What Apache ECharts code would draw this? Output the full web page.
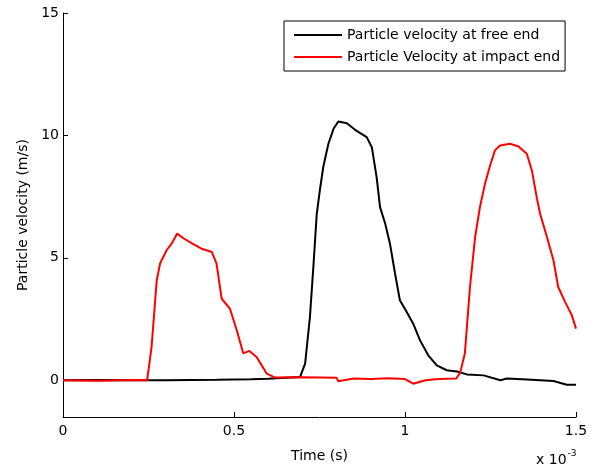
<!DOCTYPE html>
<html>
<head>
<meta charset="utf-8">
<script src="https://cdn.jsdelivr.net/npm/echarts@6/dist/echarts.min.js"></script>
<style>
html, body { margin: 0; padding: 0; background: #fff; }
#main { width: 592px; height: 470px; }
</style>
</head>
<body>
<div id="main"></div>
<script>
var myChart = echarts.init(document.getElementById('main'));

// time in units of 1e-3 s
var freeTime = [0, 0.1, 0.2, 0.3, 0.45, 0.55, 0.6, 0.65, 0.693, 0.708, 0.722, 0.732, 0.742, 0.751, 0.761, 0.776, 0.791, 0.805, 0.83, 0.854, 0.888, 0.903, 0.917, 0.927, 0.942, 0.956, 0.971, 0.985, 1.005, 1.024, 1.044, 1.068, 1.093, 1.122, 1.152, 1.181, 1.23, 1.279, 1.298, 1.357, 1.434, 1.473, 1.5];
var freeVel = [0, 0.01, 0, 0, 0.02, 0.04, 0.06, 0.1, 0.13, 0.68, 2.58, 4.62, 6.8, 7.76, 8.71, 9.66, 10.27, 10.57, 10.5, 10.23, 9.93, 9.52, 8.3, 7.07, 6.4, 5.58, 4.35, 3.27, 2.79, 2.31, 1.63, 1.02, 0.61, 0.41, 0.36, 0.24, 0.2, 0.0, 0.07, 0.03, -0.03, -0.18, -0.18];

var impactTime = [0, 0.1, 0.2, 0.246, 0.259, 0.274, 0.284, 0.303, 0.318, 0.334, 0.352, 0.376, 0.406, 0.435, 0.449, 0.464, 0.488, 0.508, 0.527, 0.545, 0.566, 0.596, 0.62, 0.7, 0.8, 0.805, 0.85, 0.9, 0.95, 1.0, 1.024, 1.06, 1.1, 1.15, 1.161, 1.175, 1.19, 1.205, 1.219, 1.234, 1.249, 1.263, 1.278, 1.307, 1.332, 1.356, 1.371, 1.385, 1.395, 1.415, 1.434, 1.448, 1.468, 1.488, 1.5];
var impactVel = [0, -0.02, 0.01, 0, 1.36, 4.08, 4.78, 5.31, 5.59, 5.99, 5.8, 5.6, 5.37, 5.24, 4.76, 3.33, 2.93, 2.04, 1.1, 1.2, 0.95, 0.27, 0.11, 0.12, 0.1, -0.04, 0.07, 0.05, 0.08, 0.05, -0.14, 0.0, 0.05, 0.07, 0.3, 1.09, 3.81, 5.85, 7.07, 8.03, 8.78, 9.39, 9.59, 9.66, 9.55, 9.25, 8.57, 7.48, 6.8, 5.85, 4.9, 3.81, 3.2, 2.65, 2.11];

var xTicks = [0, 0.5, 1, 1.5];
var yTicks = [0, 5, 10, 15];

function pairs(xs, ys) {
    return xs.map(function (x, i) { return [x, ys[i]]; });
}

var font = 'DejaVu Sans, sans-serif';

option = {
    animation: false,
    backgroundColor: '#fff',
    textStyle: { fontFamily: font },
    grid: { left: 63, right: 16, top: 13, bottom: 53 },
    legend: {
        orient: 'vertical',
        left: 284,
        top: 21,
        padding: [6, 5, 6, 10],
        icon: 'rect',
        itemWidth: 48,
        itemHeight: 2,
        itemGap: 6,
        borderColor: '#000',
        borderWidth: 1,
        borderRadius: 0,
        backgroundColor: '#fff',
        textStyle: { color: '#000', fontSize: 14, lineHeight: 16, fontFamily: font },
        data: ['Particle velocity at free end', 'Particle Velocity at impact end']
    },
    xAxis: {
        type: 'value',
        min: 0,
        max: 1.5,
        interval: 0.5,
        name: 'Time (s)',
        nameLocation: 'middle',
        nameGap: 32,
        nameTextStyle: { color: '#000', fontSize: 14, fontFamily: font },
        axisLine: { onZero: false, lineStyle: { color: '#000', width: 1 } },
        axisTick: { inside: true, length: 5, customValues: xTicks, lineStyle: { color: '#000' } },
        axisLabel: { color: '#000', fontSize: 14, fontFamily: font, margin: 7, customValues: xTicks },
        splitLine: { show: false }
    },
    yAxis: {
        type: 'value',
        min: -1.5,
        max: 15,
        name: 'Particle velocity (m/s)',
        nameLocation: 'middle',
        nameGap: 27,
        nameTextStyle: { color: '#000', fontSize: 14, fontFamily: font },
        axisLine: { show: true, lineStyle: { color: '#000', width: 1 } },
        axisTick: { inside: true, length: 5, customValues: yTicks, lineStyle: { color: '#000' } },
        axisLabel: { color: '#000', fontSize: 14, fontFamily: font, margin: 4, customValues: yTicks },
        splitLine: { show: false }
    },
    graphic: [{
        type: 'text',
        left: 536,
        top: 449,
        style: {
            text: '{a|x 10}{b|-3}',
            rich: {
                a: { fontSize: 14, fontFamily: font, fill: '#000', padding: [8, 0, 0, 0] },
                b: { fontSize: 9, fontFamily: font, fill: '#000', padding: [0, 0, 6, 1] }
            }
        }
    }],
    series: [
        {
            name: 'Particle velocity at free end',
            type: 'line',
            symbol: 'none',
            data: pairs(freeTime, freeVel),
            lineStyle: { color: '#000', width: 2 },
            itemStyle: { color: '#000' }
        },
        {
            name: 'Particle Velocity at impact end',
            type: 'line',
            symbol: 'none',
            data: pairs(impactTime, impactVel),
            lineStyle: { color: '#ff0000', width: 2 },
            itemStyle: { color: '#ff0000' }
        }
    ]
};

myChart.setOption(option);

window.onresize = function () {
    myChart.resize();
};
</script>
</body>
</html>
